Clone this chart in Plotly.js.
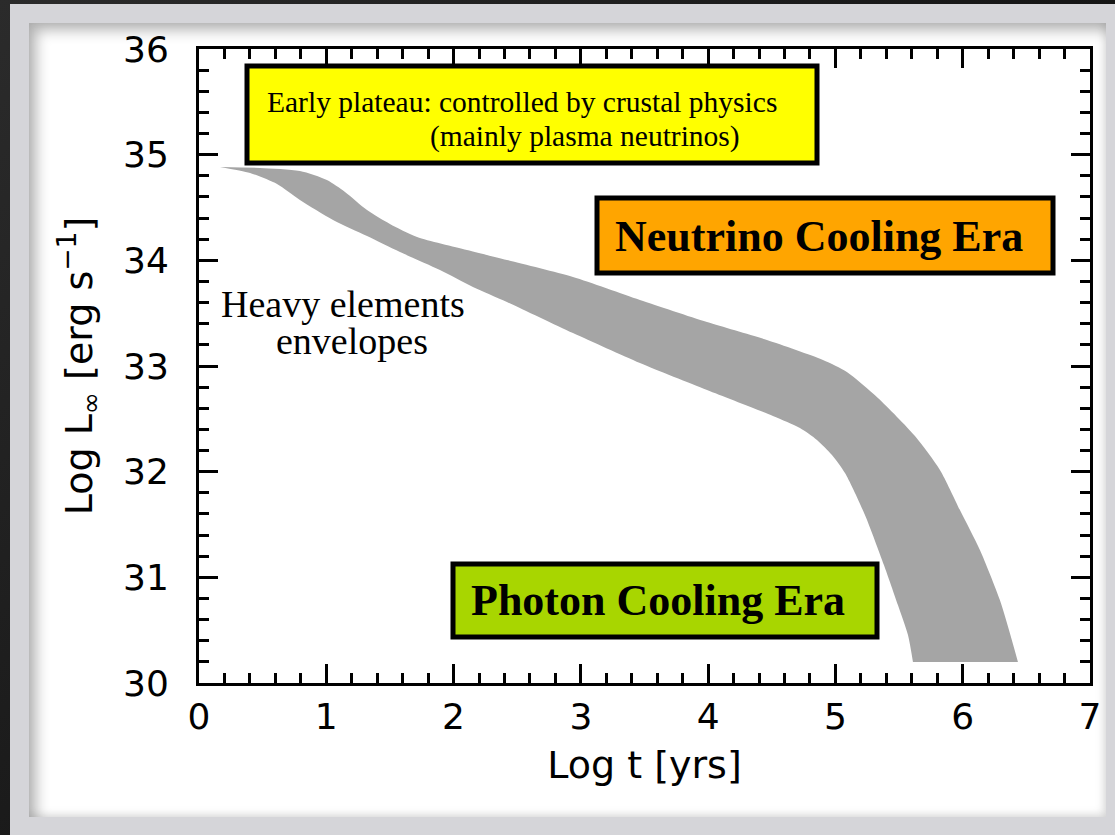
<!DOCTYPE html>
<html>
<head>
<meta charset="utf-8">
<script src="https://cdn.plot.ly/plotly-3.0.1.min.js"></script>
<style>
  html, body { margin: 0; padding: 0; }
  body {
    width: 1115px; height: 835px; overflow: hidden; position: relative;
    background: linear-gradient(135deg, #2b2b2b 0%, #141414 60%, #1c1c1c 100%);
  }
  #frame {
    position: absolute; left: 10px; top: 4px; width: 1105px; height: 831px;
    background: #d5d5d9;
  }
  #panel {
    position: absolute; left: 29px; top: 23px; width: 1077px; height: 794px;
    background: #ffffff;
    box-shadow: inset 7px 7px 14px rgba(0,0,0,0.30), inset -3px -3px 8px rgba(0,0,0,0.10);
  }
  #chart { position: absolute; left: 0; top: 0; width: 1115px; height: 835px; }
</style>
</head>
<body>
<div id="frame"></div>
<div id="panel"></div>
<div id="chart"></div>
<script>
// Cooling band of neutron stars with heavy-element envelopes:
// upper and lower edges of the luminosity band, log t [yrs] vs log L [erg/s]
const tUpper   = [0.165, 0.479, 0.793, 1.005, 1.147, 1.320, 1.500, 1.713, 2.105, 2.419, 2.938, 3.464, 3.991, 4.462, 4.902, 5.090, 5.334, 5.625, 5.821, 5.978, 6.135, 6.292, 6.434];
const lumUpper = [34.883, 34.874, 34.845, 34.760, 34.647, 34.476, 34.344, 34.221, 34.098, 34.003, 33.842, 33.625, 33.416, 33.246, 33.057, 32.943, 32.697, 32.337, 32.016, 31.637, 31.259, 30.785, 30.199];
const tLower   = [0.165, 0.401, 0.613, 0.793, 1.053, 1.320, 1.579, 1.893, 2.152, 2.419, 2.938, 3.464, 3.991, 4.509, 4.721, 4.855, 4.973, 5.075, 5.232, 5.381, 5.491, 5.570, 5.609];
const lumLower = [34.883, 34.826, 34.722, 34.571, 34.382, 34.230, 34.079, 33.908, 33.748, 33.606, 33.312, 33.028, 32.773, 32.527, 32.413, 32.300, 32.158, 31.987, 31.590, 31.117, 30.738, 30.454, 30.199];

const xTicks = [0, 1, 2, 3, 4, 5, 6, 7];
const yTicks = [30, 31, 32, 33, 34, 35, 36];

const bandGrey = '#a5a5a5';

// plot-area pixel box, used to place the labelled boxes
const PLOT = { l: 199, r: 1090, t: 49, b: 683 };
const fx = p => (p - PLOT.l) / (PLOT.r - PLOT.l);
const fy = p => (PLOT.b - p) / (PLOT.b - PLOT.t);

const serif = 'Liberation Serif, Times New Roman, serif';
const sans = 'DejaVu Sans, sans-serif';

function box(x0, y0, x1, y1, fill) {
  return {
    type: 'rect', xref: 'paper', yref: 'paper',
    x0: fx(x0), x1: fx(x1), y0: fy(y1), y1: fy(y0),
    fillcolor: fill, line: { color: '#000000', width: 5 }, layer: 'above'
  };
}
function label(text, x, y, size, bold, anchor) {
  return {
    text: bold ? '<b>' + text + '</b>' : text,
    xref: 'paper', yref: 'paper', x: fx(x), y: fy(y),
    xanchor: anchor || 'center', yanchor: 'middle', showarrow: false,
    font: { family: serif, size: size, color: '#000000' }
  };
}

const axisCommon = {
  showgrid: false, zeroline: false,
  showline: true, linecolor: '#000000', linewidth: 3, mirror: 'ticks',
  ticks: 'inside', ticklen: 19, tickwidth: 3, tickcolor: '#000000',
  minor: { dtick: 0.2, ticks: 'inside', ticklen: 10, tickwidth: 3, tickcolor: '#000000' },
  tickfont: { family: sans, size: 36, color: '#000000' }
};

// each edge is smoothed on its own; the lower edge fills back along the upper one,
// and the two bottom ends are joined with a straight line
const edgeLine = { width: 0, color: bandGrey, shape: 'spline', smoothing: 0.7 };
const data = [
  { type: 'scatter', mode: 'lines', x: tUpper, y: lumUpper,
    line: edgeLine, hoverinfo: 'skip', showlegend: false },
  { type: 'scatter', mode: 'lines', x: tLower, y: lumLower,
    fill: 'tonexty', fillcolor: bandGrey,
    line: edgeLine, hoverinfo: 'skip', showlegend: false }
];

const layout = {
  width: 1115, height: 835,
  margin: { l: PLOT.l, r: 1115 - PLOT.r, t: PLOT.t, b: 835 - PLOT.b },
  paper_bgcolor: 'rgba(0,0,0,0)', plot_bgcolor: '#ffffff',
  showlegend: false,
  xaxis: Object.assign({}, axisCommon, {
    range: [0, 7], tickvals: xTicks, ticktext: xTicks.map(String),
    ticklabelstandoff: 0,
    title: { text: 'Log t [yrs]', font: { family: sans, size: 38, color: '#000000' }, standoff: 16 }
  }),
  yaxis: Object.assign({}, axisCommon, {
    range: [30, 36], tickvals: yTicks, ticktext: yTicks.map(String),
    ticklabelstandoff: 20,
    title: { text: 'Log L<sub>∞</sub> [erg s<sup>−1</sup>]', font: { family: sans, size: 38, color: '#000000' }, standoff: 19 }
  }),
  shapes: [
    box(247, 66, 817, 163, '#ffff00'),
    box(597, 198, 1053, 273, '#ffa500'),
    box(453, 564, 877, 637, '#a8d600')
  ],
  annotations: [
    label('Early plateau: controlled by crustal physics', 265, 102, 29.5, false, 'left'),
    label('(mainly plasma neutrinos)', 428, 136, 29.5, false, 'left'),
    label('Neutrino Cooling Era', 819, 236, 44, true),
    label('Photon Cooling Era', 658, 600, 44, true),
    label('Heavy elements', 343, 304, 38, false),
    label('envelopes', 352, 341, 38, false)
  ]
};

Plotly.newPlot('chart', data, layout, { displayModeBar: false, staticPlot: true });
</script>
</body>
</html>
